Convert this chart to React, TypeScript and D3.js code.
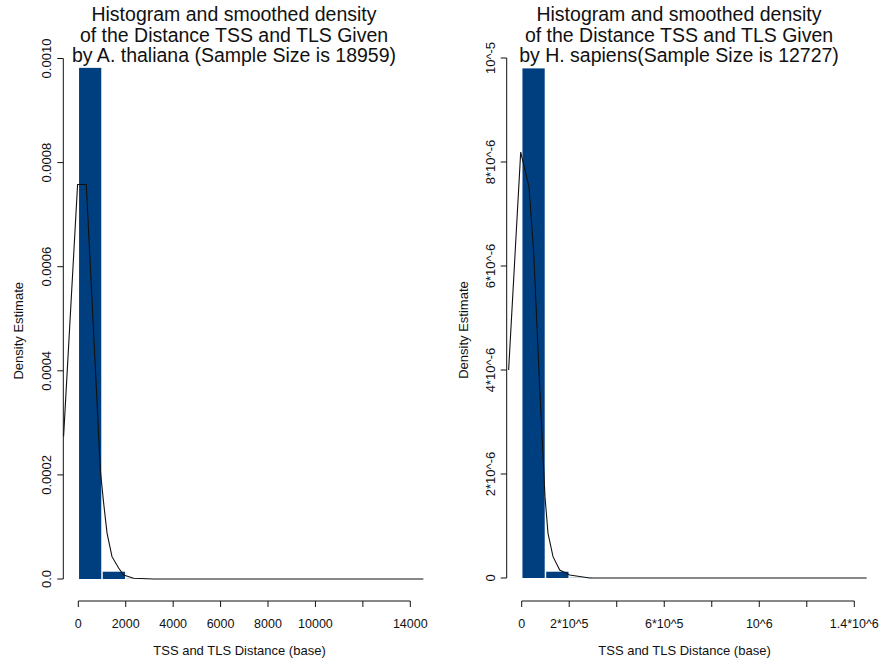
import React from "react";
import * as d3 from "d3";

// ---------- Data ----------
const titleLeft = [
  "Histogram and smoothed density",
  "of the Distance TSS and TLS Given",
  "by A. thaliana (Sample Size is 18959)",
];
const titleRight = [
  "Histogram and smoothed density",
  "of the Distance TSS and TLS Given",
  "by H. sapiens(Sample Size is 12727)",
];
const xLabel = "TSS and TLS Distance (base)";
const yLabel = "Density Estimate";

// Left: A. thaliana
const binEdgesLeft = [0, 1000, 2000, 3000, 4000];
const histLeft = [0.000982, 0.000014, 0.0000004, 0.0];
const densXLeft = [-620, -30, 337, 687, 928, 1054, 1210, 1421, 1700, 1911, 2332, 3163, 14550];
const densYLeft = [0.000274, 0.000758, 0.000758, 0.000435, 0.00021, 0.000152, 0.0000885, 0.0000429, 0.0000212, 0.0000077, 0.0000013, 0, 0];
const xTicksLeft = [0, 2000, 4000, 6000, 8000, 10000, 12000, 14000];
const xTickLabelsLeft = ["0", "2000", "4000", "6000", "8000", "10000", "", "14000"];
const yTicksLeft = [0, 0.0002, 0.0004, 0.0006, 0.0008, 0.001];
const yTickLabelsLeft = ["0.0", "0.0002", "0.0004", "0.0006", "0.0008", "0.0010"];

// Right: H. sapiens
const binEdgesRight = [0, 100000, 200000, 300000, 400000];
const histRight = [9.8e-6, 1.21e-7, 4e-9, 0];
const densXRight = [-55000, -4200, 30800, 50600, 75800, 98100, 110700, 131800, 160000, 202000, 286000, 1452000];
const densYRight = [4.0e-6, 8.19e-6, 7.52e-6, 6.25e-6, 3.67e-6, 1.56e-6, 8.6e-7, 4.1e-7, 1.54e-7, 5.8e-8, 0, 0];
const xTicksRight = [0, 200000, 400000, 600000, 800000, 1000000, 1200000, 1400000];
const xTickLabelsRight = ["0", "2*10^5", "", "6*10^5", "", "10^6", "", "1.4*10^6"];
const yTicksRight = [0, 2e-6, 4e-6, 6e-6, 8e-6, 1e-5];
const yTickLabelsRight = ["0", "2*10^-6", "4*10^-6", "6*10^-6", "8*10^-6", "10^-5"];

const FONT = "'Liberation Sans', Arial, Helvetica, sans-serif";
const BAR = "#003f7f";

type PanelProps = {
  title: string[];
  titleX: number;
  binEdges: number[];
  hist: number[];
  densX: number[];
  densY: number[];
  xTicks: number[];
  xTickLabels: string[];
  yTicks: number[];
  yTickLabels: string[];
  xRange: [number, number];
  xMax: number;
  yMax: number;
  yTop: number;
  yBottom: number;
  yLabelX: number;
  yTickLabelX: number;
  xLabelX: number;
  curveEnd: number;
};

function Panel(p: PanelProps) {
  const x = d3.scaleLinear().domain([0, p.xMax]).range(p.xRange);
  const y = d3.scaleLinear().domain([0, p.yMax]).range([p.yBottom, p.yTop]);
  const axisX0 = x.range()[0] - 15;
  const axisY = 601;
  const pts: [number, number][] = p.densX.map((d, i) => [d, p.densY[i]]);
  const line = d3
    .line<[number, number]>()
    .x((d) => Math.max(axisX0, x(d[0])))
    .y((d) => y(d[1]));
  const ymid = (p.yTop + p.yBottom) / 2;
  return (
    <g>
      {p.title.map((t, i) => (
        <text key={i} x={p.titleX} y={21 + i * 20.5} textAnchor="middle" fontSize={19.5} fill="#111" fontFamily={FONT}>
          {t}
        </text>
      ))}
      {p.hist.map((h, i) => {
        const x0 = x(p.binEdges[i]);
        const x1 = x(p.binEdges[i + 1]);
        const y0 = y(h);
        return (
          <rect
            key={i}
            x={x0 + 0.75}
            y={y0}
            width={Math.max(0, x1 - x0 - 1.5)}
            height={Math.max(0, y(0) - y0)}
            fill={BAR}
          />
        );
      })}
      <path d={line(pts) || ""} fill="none" stroke="#111" strokeWidth={1.1} />
      {/* y axis */}
      <line x1={axisX0} x2={axisX0} y1={y(0)} y2={y(p.yMax)} stroke="#111" strokeWidth={1} />
      {p.yTicks.map((t, i) => (
        <g key={i}>
          <line x1={axisX0 - 6} x2={axisX0} y1={y(t)} y2={y(t)} stroke="#111" strokeWidth={1} />
          <text
            transform={`translate(${p.yTickLabelX},${y(t)}) rotate(-90)`}
            textAnchor="middle"
            fontSize={13}
            fill="#111"
            fontFamily={FONT}
          >
            {p.yTickLabels[i]}
          </text>
        </g>
      ))}
      <text
        transform={`translate(${p.yLabelX},${ymid + 12}) rotate(-90)`}
        textAnchor="middle"
        fontSize={13}
        fill="#111"
        fontFamily={FONT}
      >
        {yLabel}
      </text>
      {/* x axis */}
      <line x1={x(0)} x2={x(p.xMax)} y1={axisY} y2={axisY} stroke="#111" strokeWidth={1} />
      {p.xTicks.map((t, i) => (
        <g key={i}>
          <line x1={x(t)} x2={x(t)} y1={axisY} y2={axisY + 6} stroke="#111" strokeWidth={1} />
          <text x={x(t)} y={628} textAnchor="middle" fontSize={12.5} fill="#111" fontFamily={FONT}>
            {p.xTickLabels[i]}
          </text>
        </g>
      ))}
      <text x={p.xLabelX} y={655} textAnchor="middle" fontSize={13} fill="#111" fontFamily={FONT}>
        {xLabel}
      </text>
    </g>
  );
}

export default function App() {
  return (
    <div style={{ position: "absolute", left: 0, top: 0 }}>
      <svg width={885} height={663} style={{ display: "block", background: "#fff" }}>
        <Panel
          title={titleLeft}
          titleX={234}
          binEdges={binEdgesLeft}
          hist={histLeft}
          densX={densXLeft}
          densY={densYLeft}
          xTicks={xTicksLeft}
          xTickLabels={xTickLabelsLeft}
          yTicks={yTicksLeft}
          yTickLabels={yTickLabelsLeft}
          xRange={[78.3, 410.3]}
          xMax={14000}
          yMax={0.001}
          yTop={58.5}
          yBottom={579}
          yLabelX={23}
          yTickLabelX={50.5}
          xLabelX={239.5}
          curveEnd={14550}
        />
        <Panel
          title={titleRight}
          titleX={679}
          binEdges={binEdgesRight}
          hist={histRight}
          densX={densXRight}
          densY={densYRight}
          xTicks={xTicksRight}
          xTickLabels={xTickLabelsRight}
          yTicks={yTicksRight}
          yTickLabels={yTickLabelsRight}
          xRange={[521.7, 854.3]}
          xMax={1400000}
          yMax={1e-5}
          yTop={58}
          yBottom={578}
          yLabelX={468}
          yTickLabelX={494.5}
          xLabelX={684.5}
          curveEnd={1452000}
        />
      </svg>
    </div>
  );
}
